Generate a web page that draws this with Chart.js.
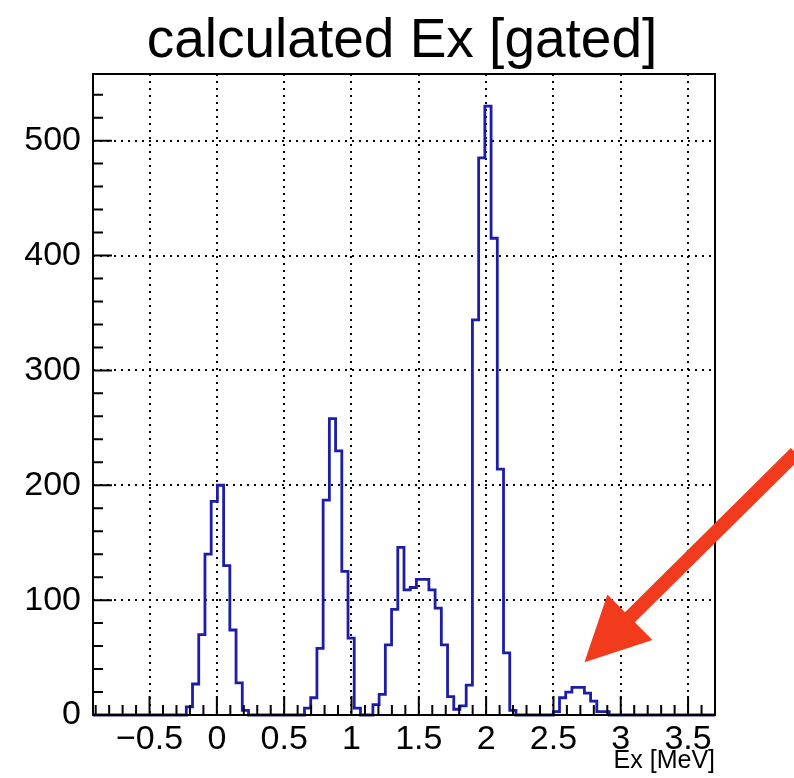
<!DOCTYPE html>
<html>
<head>
<meta charset="utf-8">
<script src="https://cdn.jsdelivr.net/npm/chart.js@4.4.1/dist/chart.umd.min.js"></script>
<style>
  body { margin: 0; background: #fff; }
  canvas { display: block; }
</style>
</head>
<body>
<canvas id="hist" width="794" height="778"></canvas>
<script>
'use strict';

// histogram: 100 bins from binLow, width binWidth
const binLow = -0.92;
const binWidth = 0.0462;
const counts = [
  0, 0, 0, 0, 0, 0, 0, 0, 0, 0,
  0, 0, 0, 0, 0, 7, 27, 70, 140, 186,
  200, 130, 74, 28, 4, 0, 0, 0, 0, 0,
  0, 0, 0, 0, 6, 15, 58, 187, 258, 230,
  125, 67, 6, 0, 0, 9, 18, 61, 92, 146,
  109, 111, 118, 118, 109, 93, 61, 16, 5, 8,
  26, 344, 485, 530, 415, 214, 54, 4, 0, 0,
  0, 0, 0, 0, 3, 15, 20, 24, 24, 19,
  12, 3, 3, 0, 0, 0, 0, 0, 0, 0,
  0, 0, 0, 0, 0, 0, 0, 0, 0, 0
];

const xRange = [-0.92, 3.70];
const yRange = [0, 558];
const xTicks = [-0.5, 0, 0.5, 1, 1.5, 2, 2.5, 3, 3.5];
const yTicks = [0, 100, 200, 300, 400, 500];
const xMinorStep = 0.1;
const yMinorStep = 20;

const titleText = 'calculated Ex [gated]';
const xTitle = 'Ex [MeV]';

// arrow annotation, in data coordinates
const arrowTip = { x: 2.73, y: 46 };
const arrowTail = { x: 4.30, y: 228 };

const FONT = '"Liberation Sans", Arial, Helvetica, sans-serif';

let points = counts.map((c, i) => ({ x: binLow + i * binWidth, y: c }));
points.push({ x: binLow + counts.length * binWidth, y: counts[counts.length - 1] });

const rootFrame = {
  id: 'rootFrame',
  afterDraw(chart) {
    const ctx = chart.ctx;
    const a = chart.chartArea;
    const xs = chart.scales.x;
    const ys = chart.scales.y;
    ctx.save();

    // inward ticks
    ctx.strokeStyle = '#000';
    ctx.lineWidth = 2;
    ctx.beginPath();
    for (let v = Math.ceil(xRange[0] / xMinorStep) * xMinorStep; v <= xRange[1] + 1e-9; v += xMinorStep) {
      let px = xs.getPixelForValue(v);
      let major = Math.abs(v / 0.5 - Math.round(v / 0.5)) < 1e-6;
      ctx.moveTo(px, a.bottom);
      ctx.lineTo(px, a.bottom - (major ? 19 : 10));
    }
    for (let v = 0; v <= yRange[1]; v += yMinorStep) {
      let py = ys.getPixelForValue(v);
      let major = v % 100 === 0;
      ctx.moveTo(a.left, py);
      ctx.lineTo(a.left + (major ? 19 : 10), py);
    }
    ctx.stroke();

    // frame
    ctx.lineWidth = 2;
    ctx.strokeRect(a.left, a.top, a.right - a.left, a.bottom - a.top);

    // titles
    ctx.fillStyle = '#000';
    ctx.font = '55px ' + FONT;
    ctx.textAlign = 'center';
    ctx.textBaseline = 'alphabetic';
    ctx.fillText(titleText, 402, 57);

    ctx.font = '25px ' + FONT;
    ctx.textAlign = 'right';
    ctx.fillText(xTitle, a.right, 768);

    // red arrow
    const tx = xs.getPixelForValue(arrowTip.x), ty = ys.getPixelForValue(arrowTip.y);
    const sx = xs.getPixelForValue(arrowTail.x), sy = ys.getPixelForValue(arrowTail.y);
    const ang = Math.atan2(ty - sy, tx - sx);
    const headLen = 64, headHalf = 32, shaftHalf = 7;
    const bx = tx - headLen * Math.cos(ang), by = ty - headLen * Math.sin(ang);
    const nx = -Math.sin(ang), ny = Math.cos(ang);
    ctx.fillStyle = '#f23a1c';
    ctx.beginPath();
    ctx.moveTo(sx + nx * shaftHalf, sy + ny * shaftHalf);
    ctx.lineTo(bx + nx * shaftHalf, by + ny * shaftHalf);
    ctx.lineTo(bx + nx * headHalf, by + ny * headHalf);
    ctx.lineTo(tx, ty);
    ctx.lineTo(bx - nx * headHalf, by - ny * headHalf);
    ctx.lineTo(bx - nx * shaftHalf, by - ny * shaftHalf);
    ctx.lineTo(sx - nx * shaftHalf, sy - ny * shaftHalf);
    ctx.closePath();
    ctx.fill();

    ctx.restore();
  }
};

const fmt = (v) => (v < 0 ? '\u2212' + String(-v) : String(v));

new Chart(document.getElementById('hist').getContext('2d'), {
  type: 'line',
  data: {
    datasets: [{
      data: points,
      stepped: 'before',
      borderColor: '#1d1daa',
      borderWidth: 2.8,
      pointRadius: 0,
      fill: false,
      clip: 3,
    }],
  },
  options: {
    responsive: false,
    animation: false,
    layout: { padding: { left: 0, right: 79, top: 74, bottom: 0 } },
    plugins: { legend: { display: false }, tooltip: { enabled: false } },
    scales: {
      x: {
        type: 'linear',
        min: xRange[0],
        max: xRange[1],
        afterBuildTicks: (scale) => { scale.ticks = xTicks.map(v => ({ value: v })); },
        afterFit: (scale) => { scale.height = 63; },
        ticks: {
          autoSkip: false,
          maxRotation: 0,
          padding: 4,
          color: '#000',
          font: { family: FONT, size: 34 },
          callback: (v) => fmt(v),
        },
        grid: { drawTicks: false, color: '#000', lineWidth: 2 },
        border: { display: false, dash: [2, 5] },
      },
      y: {
        min: yRange[0],
        max: yRange[1],
        afterBuildTicks: (scale) => { scale.ticks = yTicks.map(v => ({ value: v })); },
        afterFit: (scale) => { scale.width = 93; },
        ticks: {
          padding: 12,
          color: '#000',
          font: { family: FONT, size: 34 },
          callback: (v) => fmt(v),
        },
        grid: { drawTicks: false, color: '#000', lineWidth: 2 },
        border: { display: false, dash: [2, 5] },
      },
    },
  },
  plugins: [rootFrame],
});
</script>
</body>
</html>
